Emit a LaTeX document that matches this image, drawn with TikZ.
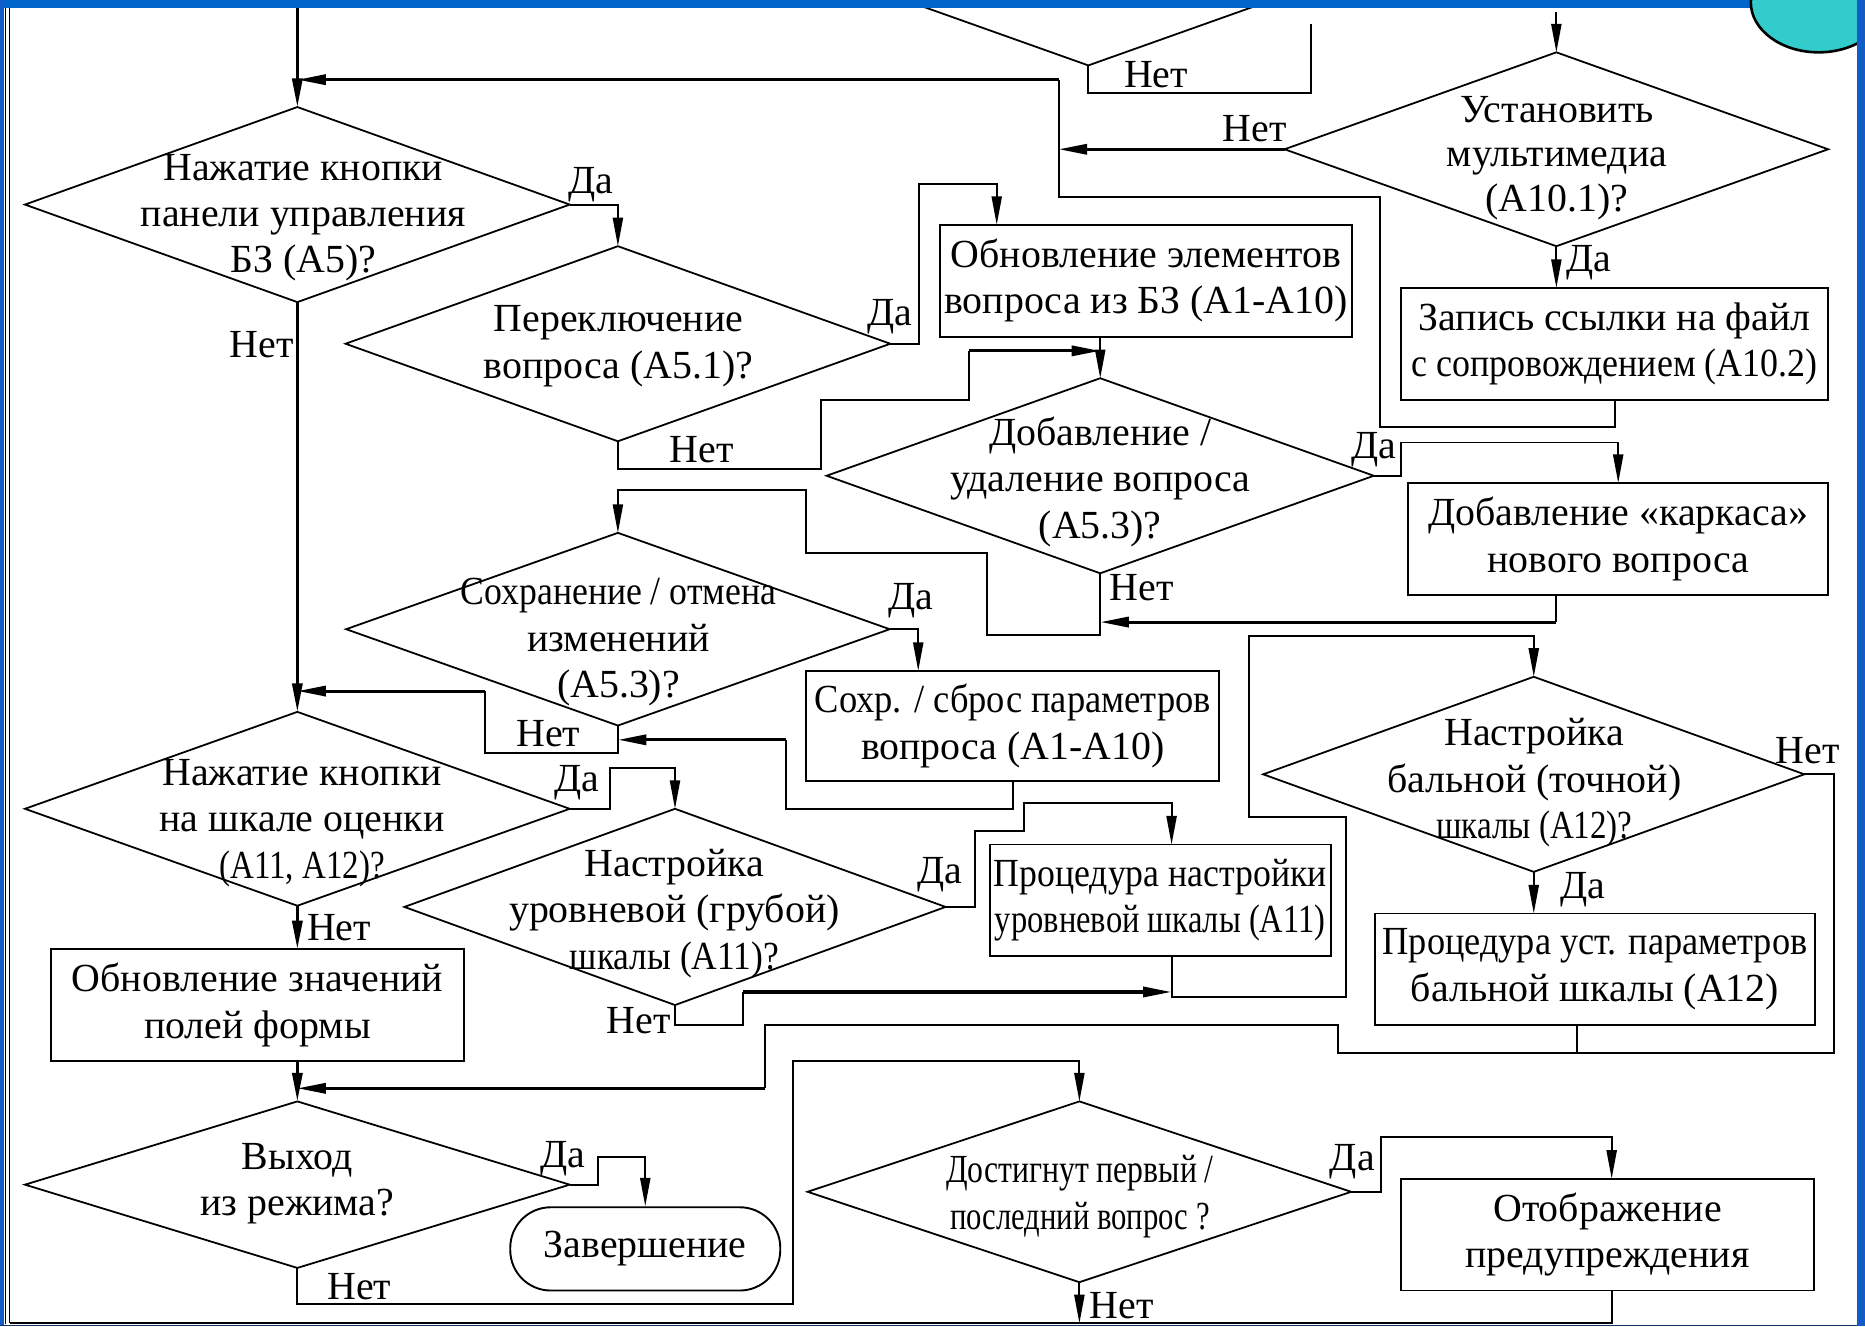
\documentclass[tikz,border=0pt]{standalone}
\usepackage{fontspec}
\setmainfont{Liberation Serif}
\newfontfamily\tnr{Liberation Serif}
\usetikzlibrary{arrows.meta,shapes.geometric,calc}
\newcommand\myfs{\tnr\fontsize{33.5}{39}\selectfont}
\newcommand\fitw[2]{\resizebox{#1}{\height}{#2}}
\definecolor{barblue}{RGB}{0,102,204}
\definecolor{bandblue}{RGB}{18,92,200}
\definecolor{circ}{RGB}{51,204,204}
\definecolor{navy}{RGB}{20,50,100}
\begin{document}
\begin{tikzpicture}[x=1pt,y=-1pt,
  ln/.style={line width=1.6pt},
  thk/.style={line width=2.6pt},
  arr/.style={-{Triangle[length=24pt,width=8.5pt]}},
  dia/.style={draw,diamond,line width=1.5pt,inner sep=0pt,outer sep=0pt},
  box/.style={draw,rectangle,line width=1.6pt,inner sep=0pt,outer sep=0pt,align=center,font=\myfs},
  txt/.style={align=center,inner sep=0pt,font=\myfs},
  lab/.style={inner sep=0pt,font=\myfs}]
\useasboundingbox (0,0) rectangle (1568,1115);
\fill[white] (0,0) rectangle (1568,1115);

% partial diamond at the top
\node[dia,minimum width=450pt,minimum height=160pt] (d0) at (915,-25) {};
\fill[barblue] (0,0) rectangle (1568,7);
\draw[line width=2.2pt,fill=circ] (1529,2) ellipse [x radius=57, y radius=42];
\fill[bandblue] (1561,0) rectangle (1568,1115);
\fill[bandblue] (0,0) rectangle (3,1115);
\fill[navy] (0,1114) rectangle (1561,1115);

% diamonds
\node[dia,minimum width=457pt,minimum height=163pt] (d10) at (1308.5,125.5) {};
\node[txt,font=\tnr\fontsize{33.5}{37}\selectfont] (d10t) at (1309,133) {Установить\\мультимедиа\\(А10.1)?};
\node[dia,minimum width=458pt,minimum height=164pt] (d1) at (250,172) {};
\node[txt] (d1t) at (255,183) {Нажатие кнопки\\панели управления\\БЗ (А5)?};
\node[dia,minimum width=458pt,minimum height=164pt] (d2) at (519.5,289) {};
\node[txt] (d2t) at (520,291) {Переключение\\вопроса (А5.1)?};
\node[dia,minimum width=460pt,minimum height=164pt] (d3) at (925,400) {};
\node[txt] (d3t) at (925,405) {Добавление /\\удаление вопроса\\(А5.3)?};
\node[dia,minimum width=457pt,minimum height=162pt] (d5) at (519.5,529) {};
\node[txt] (d5t) at (520,540) {\fitw{265pt}{Сохранение / отмена}\\изменений\\(А5.3)?};
\node[dia,minimum width=458pt,minimum height=163pt] (d4) at (250,680) {};
\node[txt] (d4t) at (254,692) {Нажатие кнопки\\на шкале оценки\\\fitw{139pt}{(А11, А12)?}};
\node[dia,minimum width=455pt,minimum height=165pt] (d6) at (567.5,762.5) {};
\node[txt] (d6t) at (567,768) {Настройка\\уровневой (грубой)\\\fitw{176pt}{шкалы (А11)?}};
\node[dia,minimum width=455pt,minimum height=164pt] (d8) at (1289.5,651) {};
\node[txt] (d8t) at (1290,658) {Настройка\\бальной (точной)\\\fitw{165pt}{шкалы (А12)?}};
\node[dia,minimum width=458pt,minimum height=140pt] (d7) at (250,996) {};
\node[txt] (d7t) at (250,995) {Выход\\из режима?};
\node[dia,minimum width=457pt,minimum height=152pt] (d9) at (907.5,1002) {};
\node[txt] (d9t) at (908,1006) {\fitw{225pt}{Достигнут первый /}\\\fitw{218pt}{последний вопрос ?}};

% boxes
\node[box,minimum width=347pt,minimum height=94pt] (belem) at (963.5,236) {Обновление элементов\\вопроса из БЗ (А1-А10)};
\node[box,minimum width=359pt,minimum height=94pt] (bzap) at (1357.5,289) {Запись ссылки на файл\\\fitw{341pt}{с сопровождением (А10.2)}};
\node[box,minimum width=353pt,minimum height=94pt] (bkark) at (1360.5,453) {Добавление «каркаса»\\нового вопроса};
\node[box,minimum width=347pt,minimum height=93pt] (bsohr) at (851.5,610.5) {\fitw{333pt}{Сохр. / сброс параметров}\\вопроса (А1-А10)};
\node[box,minimum width=287pt,minimum height=94pt] (bproc11) at (975.5,757) {\fitw{280pt}{Процедура настройки}\\\fitw{278pt}{уровневой шкалы (А11)}};
\node[box,minimum width=370pt,minimum height=94pt] (bproc12) at (1341,815) {\fitw{357pt}{Процедура уст. параметров}\\бальной шкалы (А12)};
\node[box,minimum width=347pt,minimum height=94pt] (bform) at (216.5,845) {Обновление значений\\полей формы};
\node[box,minimum width=347pt,minimum height=94pt] (botob) at (1351.5,1038) {Отображение\\предупреждения};
\node[draw,line width=1.6pt,rounded corners=34pt,minimum width=227pt,minimum height=70pt,inner sep=0pt,font=\myfs] (tend) at (542.5,1050) {Завершение};

% labels
\node[lab] (l0) at (972,63) {Нет};
\node[lab] (l10n) at (1055,108) {Нет};
\node[lab] (l10y) at (1336,221) {Да};
\node[lab] (l1y) at (497,155) {Да};
\node[lab] (l1n) at (220,290) {Нет};
\node[lab] (l2y) at (748,266) {Да};
\node[lab] (l2n) at (590,378) {Нет};
\node[lab] (l3y) at (1155,378) {Да};
\node[lab] (l3n) at (960,494) {Нет};
\node[lab] (l5y) at (766,505) {Да};
\node[lab] (l5n) at (461,617) {Нет};
\node[lab] (l4y) at (485,658) {Да};
\node[lab] (l4n) at (285,780) {Нет};
\node[lab] (l6y) at (790,735) {Да};
\node[lab] (l6n) at (537,858) {Нет};
\node[lab] (l8n) at (1520,631) {Нет};
\node[lab] (l8y) at (1331,748) {Да};
\node[lab] (l7y) at (473,974) {Да};
\node[lab] (l7n) at (302,1082) {Нет};
\node[lab] (l9y) at (1137,977) {Да};
\node[lab] (l9n) at (943,1098) {Нет};

% coordinates
\coordinate (t1) at (250,7);
\coordinate (t2) at (1308.5,10);
\coordinate (t3) at (1102,20);
\coordinate (j0) at (890,67);
\coordinate (c2) at (838,155);
\coordinate (j2) at (815,295);
\coordinate (k1) at (1308,523);
\coordinate (j5) at (408,581);
\coordinate (j6) at (661,622);
\coordinate (c4) at (513,646);
\coordinate (c6) at (985,675);
\coordinate (j7) at (625,834);
\coordinate (j8a) at (643,862);
\coordinate (j8) at (643,915);
\coordinate (c12) at (1326,885);
\coordinate (c7) at (503,973);
\coordinate (c7b) at (667,892);
\coordinate (c9) at (1355,956);
\coordinate (b9) at (907.5,1112.5);
\coordinate (b10) at (8,1112.5);

% frame lines
\draw[line width=1pt] (4.5,7) -- (4.5,1113);
\draw[line width=1.3pt] (8,7) -- (b10);

% connectors
\draw[ln] (d0.south) -- ++(0,23) -| (t3);
\draw[thk,arr] (t1) -- (d1.north);
\draw[ln,arr] (t2) -- (d10.north);
\draw[ln] (bzap.south) -- ++(0,23) -| (1160,166) -| (j0);
\draw[thk,arr] (j0) -- (j0 -| t1);
\draw[thk,arr] (d10.west) -- (d10.west -| j0);
\draw[ln,arr] (d10.south) -- (d10.south |- bzap.north);
\draw[ln,arr] (d1.east) -| (d2.north);
\draw[thk,arr] (d1.south) -- (d4.north);
\draw[ln,arr] (d2.east) -- ++(24,0) |- (c2) -- (c2 |- belem.north);
\draw[ln] (d2.south) -- ++(0,23) -| (690,336) -| (j2);
\draw[thk,arr] (j2) -- (j2 -| d3.north);
\draw[ln,arr] (d3.north |- belem.south) -- (d3.north);
\draw[ln,arr] (d3.east) -- ++(23,0) |- ($(bkark.north)+(0,-34)$) -- (bkark.north);
\draw[ln,arr] (d3.south) -- ++(0,52) -| (830,465) -| (678,412) -| (d5.north);
\draw[ln] (bkark.south -| k1) -- (k1);
\draw[thk,arr] (k1) -- (k1 -| d3.south);
\draw[ln,arr] (d5.east) -- ++(24,0) coordinate (c5) -- (c5 |- bsohr.north);
\draw[ln] (d5.south) -- ++(0,23) -| (j5);
\draw[thk,arr] (j5) -- (j5 -| d4.north);
\draw[ln] (bsohr.south) -- ++(0,23) -| (j6);
\draw[thk,arr] (j6) -- (j6 -| d5.south);
\draw[ln,arr] (d4.east) -| (c4) -| (d6.north);
\draw[thk,arr] (d4.south) -- (d4.south |- bform.north);
\draw[thk,arr] (d7.north |- bform.south) -- (d7.north);
\draw[ln,arr] (d6.east) -- ++(25,0) |- (861,699) |- (c6) -- (c6 |- bproc11.north);
\draw[ln] (d6.south) -- ++(0,17) -| (j7);
\draw[thk,arr] (j7) -- (j7 -| c6);
\draw[ln,arr] (c6 |- bproc11.south) -- (985,838) -| (1132,687) -| (1050,535) -| (d8.north);
\draw[ln,arr] (d8.south) -- (d8.south |- bproc12.north);
\draw[ln] (d8.east) -- ++(25,0) |- (1125,885) |- (j8a) -- (j8);
\draw[ln] (c12 |- bproc12.south) -- (c12);
\draw[thk,arr] (j8) -- (j8 -| d7.north);
\draw[ln,arr] (d7.east) -| (c7) -| (tend.north);
\draw[ln,arr] (d7.south) -- ++(0,30) -| (c7b) -| (d9.north);
\draw[ln,arr] (d9.east) -- ++(25,0) |- (c9) -- (c9 |- botob.north);
\draw[ln,arr] (d9.south) -- (b9);
\draw[ln] (c9 |- botob.south) -- (c9 |- b10) -- (b10);
\end{tikzpicture}
\end{document}
